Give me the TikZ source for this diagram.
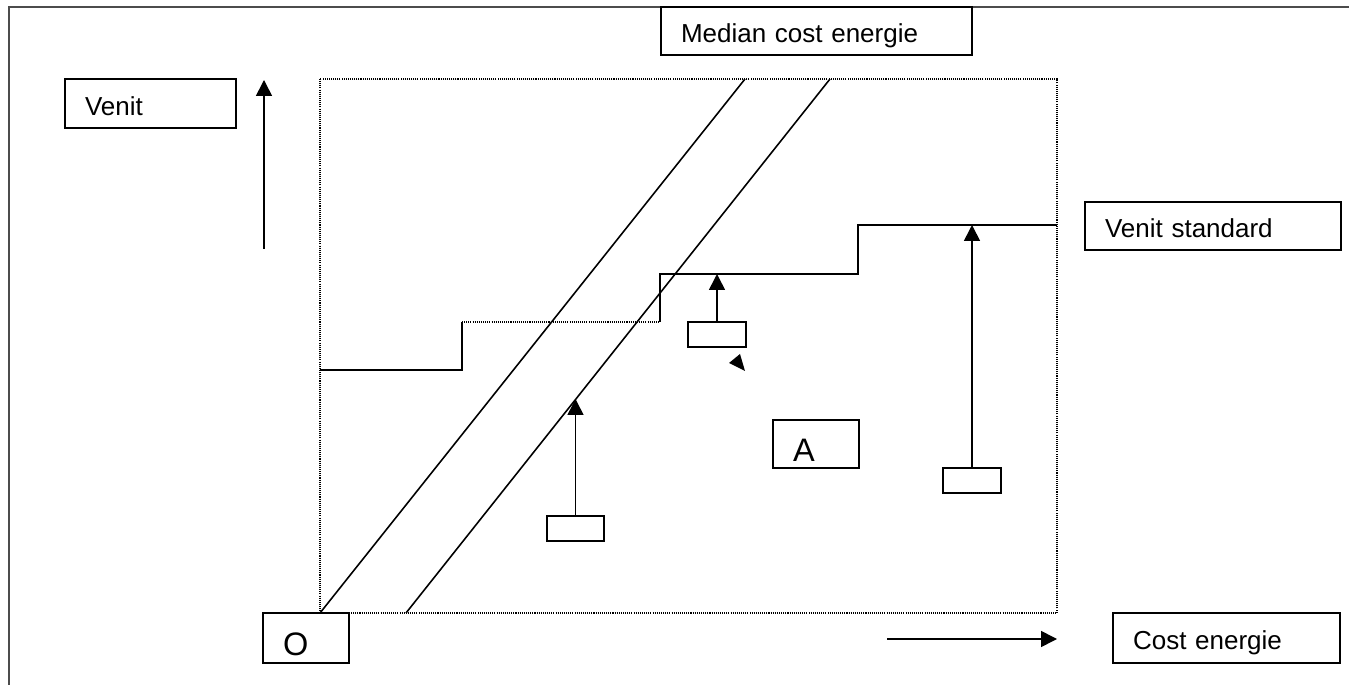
\documentclass[tikz,border=0pt]{standalone}
\usepackage{fontspec}
\setmainfont{Liberation Sans}
\usetikzlibrary{arrows.meta}
\def\pxx{0.02cm}
\def\pad{0.4cm}
\tikzset{
    lbox/.style={draw, line width=0.9pt, inner xsep=\pad, inner ysep=0pt,
        text height=0.72cm, text depth=0.24cm,
        font=\fontsize{14.8}{17}\selectfont},
    bigbox/.style={lbox, text height=0.84cm, text depth=0.13cm,
        font=\fontsize{18.5}{20}\selectfont},
    tag/.style={draw, line width=0.9pt, inner sep=0pt, minimum width=1.15cm, minimum height=0.5cm},
    ln/.style={line width=0.9pt},
    dots/.style={line width=0.9pt, dash pattern=on 0.6pt off 0.6pt},
    arr/.style={line width=0.9pt, -{Triangle[width=9pt,length=9pt]}},
}
% name, x, y, text width, height, text
\newcommand{\lbox}[7][lbox]{
    \node[#1, text width=#5, minimum height=#6] (#2) at (#3,#4) {#7};
}

\begin{document}
\begin{tikzpicture}[x=\pxx, y=-\pxx]
    \useasboundingbox (0,0) rectangle (1349,685);
    % frame
    \draw[black!70, line width=0.8pt] (9,685) -- (9,7) -- (1349,7);
    % labels
    \lbox{venit}{150.5}{103.5}{2.62cm}{0.98cm}{Venit}
    \lbox{median}{816.5}{31}{5.42cm}{0.96cm}{Median cost energie}
    \lbox{vstd}{1213}{226}{4.32cm}{0.96cm}{Venit standard}
    \lbox[bigbox]{orig}{306}{638}{0.92cm}{1.0cm}{O}
    \lbox{cost}{1226.5}{638}{3.74cm}{1.0cm}{Cost energie}
    \lbox[bigbox]{zoneA}{816}{444}{0.92cm}{0.96cm}{A}
    \node[tag] (sb1) at (575.5,528.5) {};
    \node[tag] (sb2) at (717,334.5) {};
    \node[tag] (sb3) at (972,480.5) {};
    % plot area
    \coordinate (fnw) at (320,79);
    \coordinate (fse) at (1057,613);
    \draw[dots] (fnw) rectangle (fse);
    \coordinate (d1a) at (320,613);
    \coordinate (d1b) at (745,79);
    \coordinate (d2a) at (406,613);
    \coordinate (d2b) at (830,79);
    \draw[ln] (d1a) -- (d1b);
    \draw[ln] (d2a) -- (d2b);
    % steps
    \coordinate (s0) at (320,370);
    \coordinate (s1) at (462,370);
    \coordinate (s2) at (462,322);
    \coordinate (s3) at (660,322);
    \coordinate (s4) at (660,274);
    \coordinate (s5) at (858,274);
    \coordinate (s6) at (858,225);
    \coordinate (s7) at (1057,225);
    \draw[ln] (s0) -- (s1) -- (s2);
    \draw[dots] (s2) -- (s3);
    \draw[ln] (s3) -- (s4) -- (s5) -- (s6) -- (s7);
    % arrows
    \coordinate (t1) at (575.5,399);
    \coordinate (t2) at (717,274);
    \coordinate (t3) at (972,225);
    \draw[arr] (sb1.north) -- (t1);
    \draw[arr] (sb2.north) -- (t2);
    \draw[arr] (sb3.north) -- (t3);
    \coordinate (va) at (264,249);
    \coordinate (vb) at (264,80);
    \draw[arr] (va) -- (vb);
    \coordinate (ca) at (887,639);
    \coordinate (cb) at (1057,639);
    \draw[arr] (ca) -- (cb);
    \fill (729,363) -- (740,354) -- (745,371) -- cycle;
\end{tikzpicture}
\end{document}
